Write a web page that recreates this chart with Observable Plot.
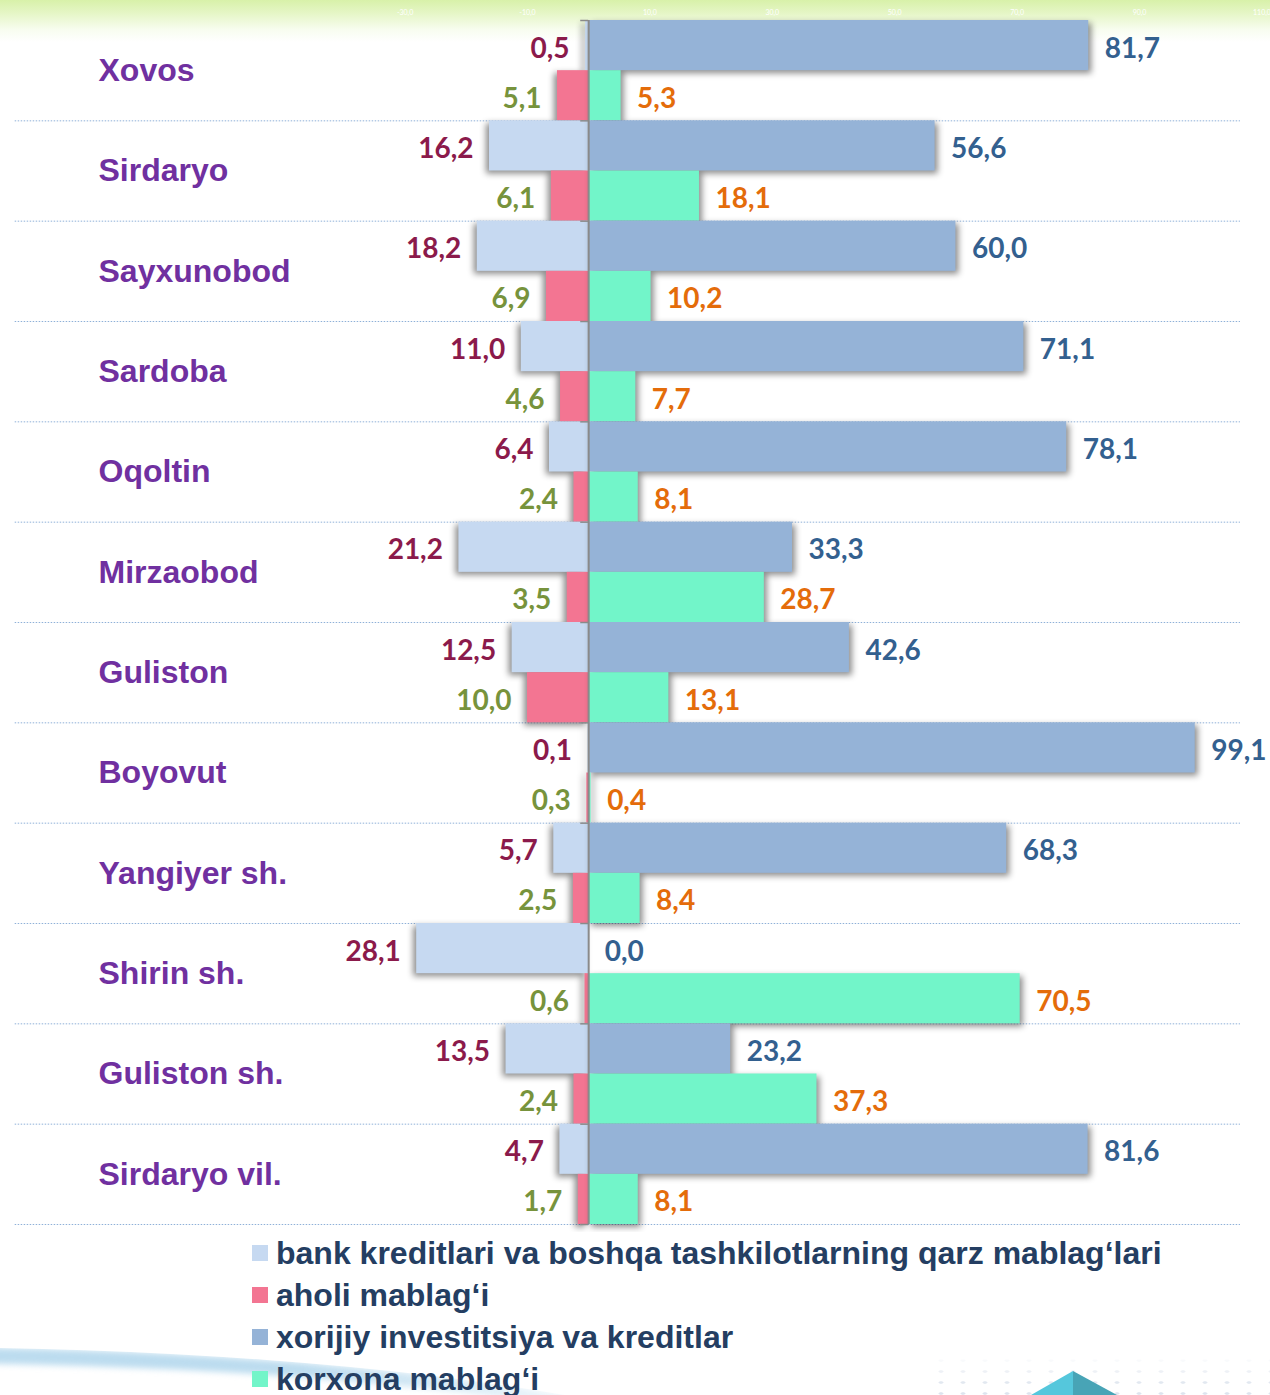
<!DOCTYPE html>
<html>
<head>
<meta charset="utf-8">
<script src="https://cdn.jsdelivr.net/npm/d3@7"></script>
<script src="https://cdn.jsdelivr.net/npm/@observablehq/plot@0.6"></script>
<style>
  html, body { margin: 0; padding: 0; background: #fff; }
  #page {
    position: relative; width: 1270px; height: 1395px; overflow: hidden;
    background: linear-gradient(to bottom, #d8f1a9 0px, #e6f6c8 14px, #f8fdf0 30px, #ffffff 42px, #ffffff 100%);
  }
  #chart { position: absolute; left: 0; top: 0; }
  #legend { position: absolute; left: 252px; top: 1232px; }
  .item { display: flex; align-items: center; height: 42px; white-space: nowrap;
    font-family: "Liberation Sans", Arial, sans-serif; font-weight: bold; font-size: 32px; color: #243e62; }
  .sw { width: 16px; height: 16px; margin-right: 8px; flex: none; }
  .swoosh { position: absolute; left: -1050px; top: 1347px; width: 1900px; height: 320px;
    border-radius: 50%; border-top: 16px solid rgba(165, 208, 234, 0.75); filter: blur(3px);
    -webkit-mask-image: linear-gradient(to right, #000 0px, #000 1350px, rgba(0,0,0,0.3) 1600px, transparent 1700px);
    mask-image: linear-gradient(to right, #000 0px, #000 1350px, rgba(0,0,0,0.3) 1600px, transparent 1700px); }
  .dots { position: absolute; left: 930px; top: 1355px; width: 340px; height: 40px; opacity: 0.35;
    background-image: radial-gradient(ellipse 3px 1.5px, #9fb3cf 60%, transparent 100%);
    background-size: 22px 11px;
    -webkit-mask-image: linear-gradient(to bottom, transparent, #000 80%);
    mask-image: linear-gradient(to bottom, transparent, #000 80%); }
  .pyrL { position: absolute; left: 1031px; top: 1371px; width: 42px; height: 24px; background: #55c7dc;
    clip-path: polygon(100% 0, 100% 100%, 0 100%); }
  .pyrR { position: absolute; left: 1073px; top: 1371px; width: 44px; height: 24px; background: #48a4b6;
    clip-path: polygon(0 0, 100% 100%, 0 100%); }
</style>
</head>
<body>
<div id="page">
  <div class="swoosh"></div>
  <div class="dots"></div>
  <div class="pyrL"></div>
  <div class="pyrR"></div>
  <div id="chart"></div>
  <div id="legend"></div>
</div>
<script>
// ---- data ----
const regions = ["Xovos", "Sirdaryo", "Sayxunobod", "Sardoba", "Oqoltin", "Mirzaobod",
  "Guliston", "Boyovut", "Yangiyer sh.", "Shirin sh.", "Guliston sh.", "Sirdaryo vil."];
const bank    = [0.5, 16.2, 18.2, 11.0, 6.4, 21.2, 12.5, 0.1, 5.7, 28.1, 13.5, 4.7];
const aholi   = [5.1, 6.1, 6.9, 4.6, 2.4, 3.5, 10.0, 0.3, 2.5, 0.6, 2.4, 1.7];
const xorijiy = [81.7, 56.6, 60.0, 71.1, 78.1, 33.3, 42.6, 99.1, 68.3, 0.0, 23.2, 81.6];
const korxona = [5.3, 18.1, 10.2, 7.7, 8.1, 28.7, 13.1, 0.4, 8.4, 70.5, 37.3, 8.1];
const seriesNames = [
  "bank kreditlari va boshqa tashkilotlarning qarz mablag‘lari",
  "aholi mablag‘i",
  "xorijiy investitsiya va kreditlar",
  "korxona mablag‘i"
];
const seriesColors = ["#c6d9f1", "#f37592", "#95b3d7", "#72f5c9"];
const labelColors  = ["#8b1a4b", "#77933c", "#33608f", "#e46c0a"];
const topTicks = [-30, -10, 10, 30, 50, 70, 90, 110];

// ---- build rows ----
const leftRows = regions.flatMap((r, i) => [
  {region: r, row: 2 * i, v: bank[i], s: 0},
  {region: r, row: 2 * i + 1, v: aholi[i], s: 1}
]);
const rightRows = regions.flatMap((r, i) => [
  {region: r, row: 2 * i, v: xorijiy[i], s: 2},
  {region: r, row: 2 * i + 1, v: korxona[i], s: 3}
]);
const fmt = v => v.toFixed(1).replace(".", ",");
const boundaries = d3.range(0, regions.length + 1).map(i => 2 * i);

const valueFont = "Lato, 'Open Sans', sans-serif";
const nameFont = "'Liberation Sans', Arial, sans-serif";

const chart = Plot.plot({
  width: 1270,
  height: 1232,
  marginLeft: 0, marginRight: 0, marginTop: 20, marginBottom: 8,
  x: {domain: [-96.1, 111.4], axis: null},
  y: {domain: [0, 24], range: [20, 1224], axis: null},
  color: {type: "identity"},
  marks: [
    Plot.ruleY(boundaries.slice(1), {x1: -93.7, x2: 106.5, stroke: "#8fb0d8", strokeWidth: 1, strokeDasharray: "1.5,1.5"}),
    Plot.rect(leftRows, {x1: 0, x2: d => -d.v, y1: d => d.row, y2: d => d.row + 1, fill: d => seriesColors[d.s], inset: 0}),
    Plot.rect(rightRows, {x1: 0, x2: d => d.v, y1: d => d.row, y2: d => d.row + 1, fill: d => seriesColors[d.s], inset: 0}),
    Plot.ruleX([0], {y1: 0, y2: 24, stroke: "#8a8a8a", strokeWidth: 2}),
    Plot.ruleY(boundaries, {x1: -1.3, x2: 0, stroke: "#8a8a8a", strokeWidth: 1.5}),
    Plot.text(leftRows, {x: d => -d.v, y: d => d.row + 0.5, text: d => fmt(d.v), textAnchor: "end", dx: -16, dy: 3,
      fill: d => labelColors[d.s], fontSize: 28, fontWeight: "bold", fontFamily: valueFont}),
    Plot.text(rightRows, {x: d => d.v, y: d => d.row + 0.5, text: d => fmt(d.v), textAnchor: "start", dx: 16, dy: 3,
      fill: d => labelColors[d.s], fontSize: 28, fontWeight: "bold", fontFamily: valueFont}),
    Plot.text(regions, {y: (d, i) => 2 * i + 1, frameAnchor: "left", dx: 98, textAnchor: "start", text: d => d,
      fill: "#7030a0", fontSize: 32, fontWeight: "bold", fontFamily: nameFont}),
    Plot.text(topTicks, {x: d => d, frameAnchor: "top", dy: -10, text: d => fmt(d),
      fill: "#ffffff", fontSize: 7, fontFamily: valueFont})
  ]
});
chart.style.background = "transparent";
document.getElementById("chart").appendChild(chart);

// bar shadows: left bars cast outward to the left, right bars to the right
const rectGroups = d3.select(chart).selectAll('g[aria-label="rect"]').nodes();
if (rectGroups[0]) rectGroups[0].setAttribute("style", "filter: drop-shadow(-3px 3px 3px rgba(0,0,0,0.45))");
if (rectGroups[1]) rectGroups[1].setAttribute("style", "filter: drop-shadow(3px 3px 3px rgba(0,0,0,0.45))");

// legend
const legend = d3.select("#legend");
seriesNames.forEach((name, k) => {
  const item = legend.append("div").attr("class", "item");
  item.append("div").attr("class", "sw").style("background", seriesColors[k]);
  item.append("span").text(name);
});
</script>
</body>
</html>
